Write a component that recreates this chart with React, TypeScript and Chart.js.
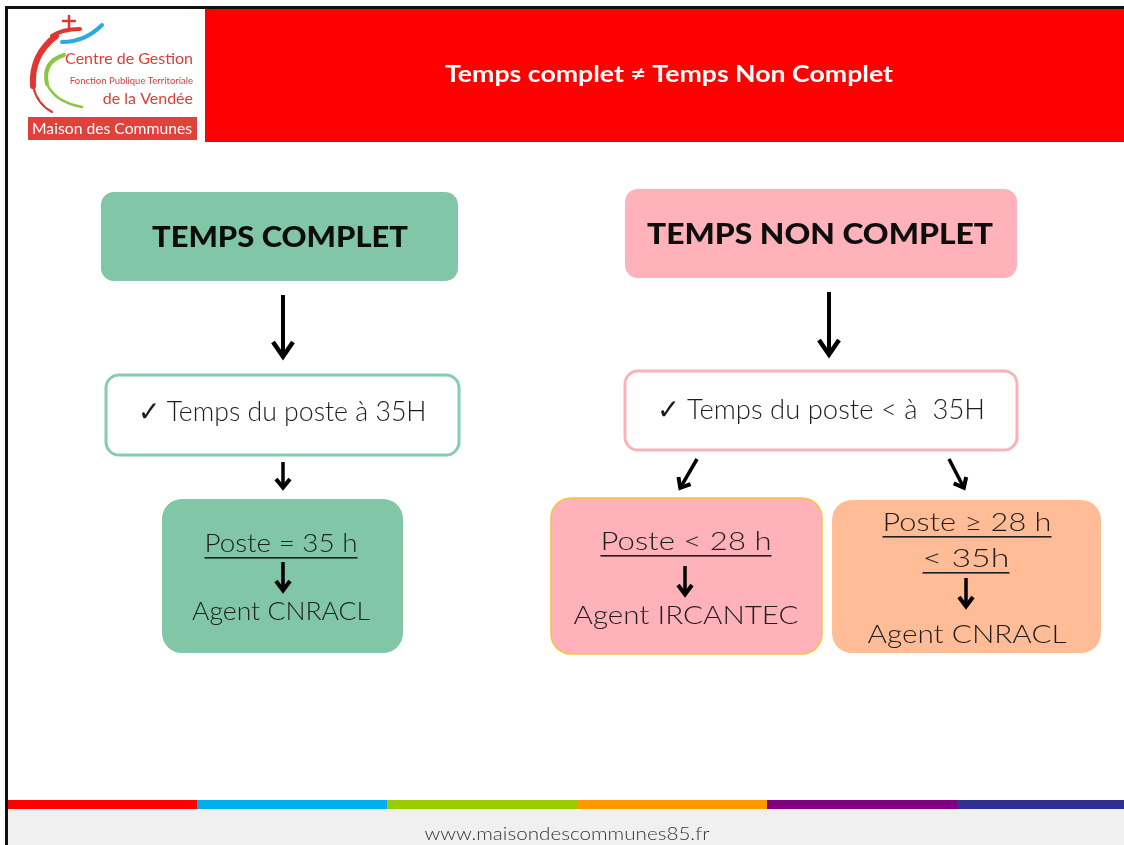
import React, { useEffect, useRef } from "react";
import { Chart, registerables } from "chart.js";

Chart.register(...registerables);

// ---------- content (text values) ----------
const slideTitle = "Temps complet ≠ Temps Non Complet";
const branchTitles = ["TEMPS COMPLET", "TEMPS NON COMPLET"];
const branchConditions = ["✓ Temps du poste à 35H", "✓ Temps du poste < à  35H"];
const outcomeRules = [["Poste = 35 h"], ["Poste < 28 h"], ["Poste ≥ 28 h", "< 35h"]];
const outcomeFunds = ["Agent CNRACL", "Agent IRCANTEC", "Agent CNRACL"];
const logoLines = ["Centre de Gestion", "Fonction Publique Territoriale", "de la Vendée"];
const logoBanner = "Maison des Communes";
const footerUrl = "www.maisondescommunes85.fr";
const stripeColors = ["#ff0000", "#00adef", "#99cc00", "#ff9900", "#800080", "#2e3192"];

// ---------- layout & style (drawing space = 1124 x 845 units) ----------
const W = 1124;
const H = 845;
const FONT = "Lato, 'Noto Sans', 'DejaVu Sans', sans-serif";
const GREEN = "#80c6a7";
const PINK = "#ffb2b9";
const PEACH = "#ffbc97";

const LAYOUT = {
  header: { x0: 205, y0: 9, x1: W, y1: 142, title: { cx: 669, base: 82, size: 22, w: 448 } },
  branches: [
    {
      box: { x0: 101, y0: 192, x1: 458, y1: 281, fill: GREEN },
      title: { cx: 280, base: 247, size: 28, w: 256 },
      arrow: { x0: 283, y0: 295, x1: 283, y1: 359 },
      cond: { x0: 106, y0: 375, x1: 459, y1: 455, stroke: "#86ccae" },
      condText: { cx: 282, base: 421, size: 28, w: 289 },
    },
    {
      box: { x0: 625, y0: 189, x1: 1017, y1: 278, fill: PINK },
      title: { cx: 820, base: 244, size: 28, w: 346 },
      arrow: { x0: 829, y0: 292, x1: 829, y1: 357 },
      cond: { x0: 625, y0: 371, x1: 1017, y1: 450, stroke: "#f7b3b8" },
      condText: { cx: 821, base: 419, size: 28, w: 328 },
    },
  ],
  subArrows: [
    { x0: 283, y0: 462, x1: 283, y1: 490 },
    { x0: 697, y0: 459, x1: 679, y1: 490 },
    { x0: 949, y0: 459, x1: 965, y1: 490 },
  ],
  outcomes: [
    {
      box: { x0: 162, y0: 499, x1: 403, y1: 653, fill: GREEN, stroke: null as string | null },
      rules: [{ cx: 281, base: 552, w: 153, ul: 557 }],
      arrow: { x: 283, y0: 562, y1: 593 },
      fund: { cx: 281, base: 620, w: 178 },
    },
    {
      box: { x0: 551, y0: 498, x1: 822, y1: 654, fill: PINK, stroke: "#f6c443" as string | null },
      rules: [{ cx: 686, base: 550, w: 171, ul: 555 }],
      arrow: { x: 685, y0: 566, y1: 597 },
      fund: { cx: 686, base: 624, w: 225 },
    },
    {
      box: { x0: 832, y0: 500, x1: 1101, y1: 653, fill: PEACH, stroke: null as string | null },
      rules: [
        { cx: 967, base: 531, w: 169, ul: 536 },
        { cx: 966, base: 567, w: 87, ul: 572 },
      ],
      arrow: { x: 966, y0: 578, y1: 609 },
      fund: { cx: 967, base: 643, w: 199 },
    },
  ],
  stripe: { y0: 800, y1: 809, x0: 7, x1: W },
  footer: { y0: 809, y1: H, text: { cx: 567, base: 840, size: 17, w: 285 } },
};

type Ctx = CanvasRenderingContext2D;

function drawText(
  ctx: Ctx,
  str: string,
  cx: number,
  base: number,
  size: number,
  weight: string,
  targetW: number,
  color: string,
  align: CanvasTextAlign = "center"
) {
  ctx.save();
  ctx.font = `${weight} ${size}px ${FONT}`;
  const w = ctx.measureText(str).width;
  const sx = targetW > 0 ? targetW / w : 1;
  ctx.translate(cx, base);
  ctx.scale(sx, 1);
  ctx.fillStyle = color;
  ctx.textAlign = align;
  ctx.textBaseline = "alphabetic";
  ctx.fillText(str, 0, 0);
  ctx.restore();
}

function drawArrow(ctx: Ctx, x0: number, y0: number, x1: number, y1: number, lw: number, head: number, half: number) {
  const ang = Math.atan2(y1 - y0, x1 - x0);
  const ux = Math.cos(ang);
  const uy = Math.sin(ang);
  ctx.save();
  ctx.strokeStyle = "#000";
  ctx.lineWidth = lw;
  ctx.lineCap = "butt";
  ctx.lineJoin = "miter";
  ctx.beginPath();
  ctx.moveTo(x0, y0);
  ctx.lineTo(x1 - ux * 2, y1 - uy * 2);
  ctx.stroke();
  ctx.lineWidth = lw + 0.5;
  ctx.beginPath();
  ctx.moveTo(x1 - ux * head - uy * half, y1 - uy * head + ux * half);
  ctx.lineTo(x1 - ux * 2.5, y1 - uy * 2.5);
  ctx.lineTo(x1 - ux * head + uy * half, y1 - uy * head - ux * half);
  ctx.stroke();
  ctx.restore();
}

const diagramPlugin = {
  id: "diagram",
  afterDraw(chart: any) {
    const ctx: Ctx = chart.ctx;
    const sx = chart.scales.x;
    const sy = chart.scales.y;
    const X = (v: number) => sx.getPixelForValue(v);
    const Y = (v: number) => sy.getPixelForValue(v);

    const rect = (x0: number, y0: number, x1: number, y1: number, fill: string) => {
      ctx.fillStyle = fill;
      ctx.fillRect(X(x0), Y(y0), X(x1) - X(x0), Y(y1) - Y(y0));
    };
    const rrect = (b: any, r: number, fill: string | null, stroke: string | null, lw: number) => {
      ctx.beginPath();
      (ctx as any).roundRect(X(b.x0), Y(b.y0), X(b.x1) - X(b.x0), Y(b.y1) - Y(b.y0), r);
      if (fill) {
        ctx.fillStyle = fill;
        ctx.fill();
      }
      if (stroke) {
        ctx.strokeStyle = stroke;
        ctx.lineWidth = lw;
        ctx.stroke();
      }
    };

    ctx.save();
    // page
    rect(0, 0, W, H, "#ffffff");

    // header
    const hd = LAYOUT.header;
    rect(hd.x0, hd.y0, hd.x1, hd.y1, "#ff0000");
    drawText(ctx, slideTitle, X(hd.title.cx), Y(hd.title.base), hd.title.size, "bold", hd.title.w, "#ffffff");

    // frame lines
    rect(5, 6, W, 9, "#111111");
    rect(5, 6, 8, H, "#111111");

    // ----- logo -----
    ctx.lineCap = "round";
    // red swoosh (C shape)
    ctx.strokeStyle = "#e2352f";
    ctx.lineWidth = 6;
    ctx.beginPath();
    ctx.moveTo(X(56), Y(36));
    ctx.quadraticCurveTo(X(31), Y(55), X(33), Y(86));
    ctx.stroke();
    ctx.lineWidth = 2;
    ctx.beginPath();
    ctx.moveTo(X(33), Y(86));
    ctx.quadraticCurveTo(X(37), Y(104), X(52), Y(112));
    ctx.stroke();
    // red figure at top
    ctx.lineWidth = 2.5;
    ctx.beginPath();
    ctx.moveTo(X(69), Y(16));
    ctx.lineTo(X(69), Y(29));
    ctx.stroke();
    ctx.beginPath();
    ctx.moveTo(X(63), Y(21));
    ctx.lineTo(X(75), Y(21));
    ctx.stroke();
    ctx.lineWidth = 4;
    ctx.beginPath();
    ctx.moveTo(X(52), Y(36));
    ctx.quadraticCurveTo(X(62), Y(29), X(80), Y(29));
    ctx.stroke();
    // blue swoosh
    ctx.strokeStyle = "#29abe2";
    ctx.lineWidth = 4;
    ctx.beginPath();
    ctx.moveTo(X(62), Y(42));
    ctx.quadraticCurveTo(X(85), Y(42), X(102), Y(25));
    ctx.stroke();
    // green swoosh
    ctx.strokeStyle = "#8cc63f";
    ctx.lineWidth = 4;
    ctx.beginPath();
    ctx.moveTo(X(64), Y(55));
    ctx.quadraticCurveTo(X(42), Y(62), X(47), Y(84));
    ctx.stroke();
    ctx.lineWidth = 2.5;
    ctx.beginPath();
    ctx.moveTo(X(47), Y(84));
    ctx.quadraticCurveTo(X(55), Y(102), X(82), Y(107));
    ctx.stroke();
    // logo text
    drawText(ctx, logoLines[0], X(193), Y(64), 16, "normal", 0, "#d9403a", "right");
    drawText(ctx, logoLines[1], X(193), Y(84), 9.5, "normal", 0, "#d9403a", "right");
    drawText(ctx, logoLines[2], X(193), Y(104), 16, "normal", 0, "#d9403a", "right");
    rect(28, 117, 197, 140, "#e1413b");
    drawText(ctx, logoBanner, X(112), Y(134), 15, "normal", 160, "#ffffff");

    // ----- branches -----
    LAYOUT.branches.forEach((b, i) => {
      rrect(b.box, 13, b.box.fill, null, 0);
      drawText(ctx, branchTitles[i], X(b.title.cx), Y(b.title.base), b.title.size, "900", b.title.w, "#0d0d0d");
      drawArrow(ctx, X(b.arrow.x0), Y(b.arrow.y0), X(b.arrow.x1), Y(b.arrow.y1), 4, 17, 10);
      rrect(b.cond, 13, "#ffffff", b.cond.stroke, 3);
      drawText(ctx, branchConditions[i], X(b.condText.cx), Y(b.condText.base), b.condText.size, "300", b.condText.w, "#1e1e1e");
    });

    LAYOUT.subArrows.forEach((a) => {
      drawArrow(ctx, X(a.x0), Y(a.y0), X(a.x1), Y(a.y1), 3.5, 11, 7);
    });

    // ----- outcomes -----
    LAYOUT.outcomes.forEach((o, i) => {
      rrect(o.box, 20, o.box.fill, o.box.stroke, 1.5);
      outcomeRules[i].forEach((line, j) => {
        const r = o.rules[j];
        drawText(ctx, line, X(r.cx), Y(r.base), 26, "300", r.w, "#1e1e1e");
        ctx.fillStyle = "#1e1e1e";
        ctx.fillRect(X(r.cx - r.w / 2), Y(r.ul), X(r.cx + r.w / 2) - X(r.cx - r.w / 2), 1.6);
      });
      drawArrow(ctx, X(o.arrow.x), Y(o.arrow.y0), X(o.arrow.x), Y(o.arrow.y1), 3.5, 12, 7);
      drawText(ctx, outcomeFunds[i], X(o.fund.cx), Y(o.fund.base), 26, "300", o.fund.w, "#1e1e1e");
    });

    // ----- bottom stripe & footer -----
    const st = LAYOUT.stripe;
    const seg = 190;
    stripeColors.forEach((c, i) => {
      const x0 = st.x0 + i * seg;
      const x1 = i === stripeColors.length - 1 ? st.x1 : x0 + seg;
      rect(x0, st.y0, x1, st.y1, c);
    });
    const ft = LAYOUT.footer;
    rect(8, ft.y0, W, ft.y1, "#f0f0f0");
    drawText(ctx, footerUrl, X(ft.text.cx), Y(ft.text.base), ft.text.size, "300", ft.text.w, "#333333");
    // redraw left frame over footer
    rect(5, 6, 8, H, "#111111");
    ctx.restore();
  },
};

export default function App() {
  const ref = useRef<HTMLCanvasElement | null>(null);

  useEffect(() => {
    document.body.style.margin = "0";
    const canvas = ref.current;
    if (!canvas) return;
    const chart = new Chart(canvas, {
      type: "scatter",
      data: { datasets: [{ data: [], pointRadius: 0 }] },
      options: {
        animation: false,
        responsive: false,
        maintainAspectRatio: false,
        events: [],
        layout: { padding: 0 },
        plugins: {
          legend: { display: false },
          tooltip: { enabled: false },
          title: { display: false },
        },
        scales: {
          x: { type: "linear", min: 0, max: W, display: false },
          y: { type: "linear", min: 0, max: H, reverse: true, display: false },
        },
      },
      plugins: [diagramPlugin],
    });
    return () => chart.destroy();
  }, []);

  return (
    <div style={{ position: "fixed", left: 0, top: 0, width: W, height: H, background: "#fff" }}>
      <canvas ref={ref} width={W} height={H} style={{ display: "block", width: W, height: H }} />
    </div>
  );
}
